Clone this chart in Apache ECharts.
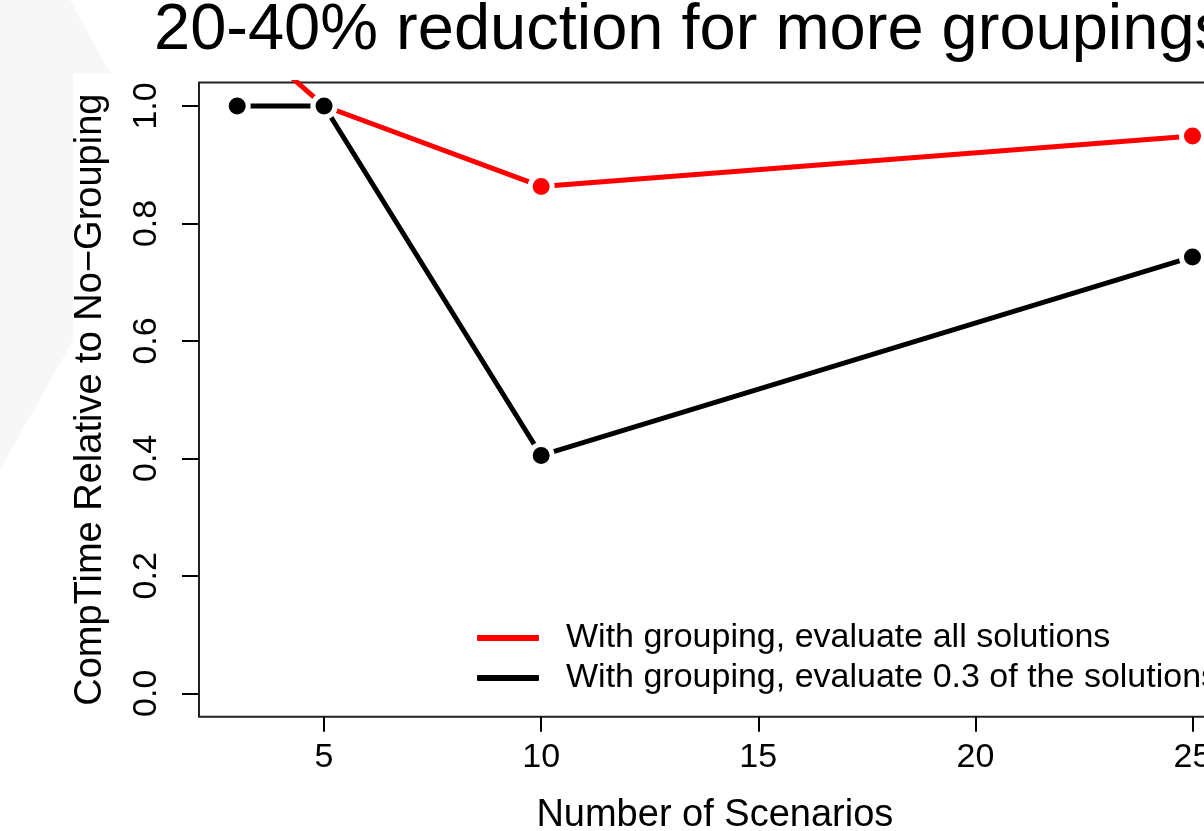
<!DOCTYPE html>
<html>
<head>
<meta charset="utf-8">
<script src="https://cdn.jsdelivr.net/npm/echarts@6/dist/echarts.min.js"></script>
<style>html,body{margin:0;padding:0;background:#fff;}#c{width:1204px;height:831px;}</style>
</head>
<body>
<div id="c"></div>
<script>
const titleText = "20-40% reduction for more groupings";
const xName = "Number of Scenarios";
const yName = "CompTime Relative to No\u2212Grouping";
const seriesNames = ["With grouping, evaluate all solutions", "With grouping, evaluate 0.3 of the solutions"];
const scenarios = [3, 5, 10, 25];
const redValues = [1.13, 1.0, 0.863, 0.949];
const blackValues = [1.0, 1.0, 0.405, 0.743];
const xTicks = [5, 10, 15, 20, 25];
const yTicks = [0, 0.2, 0.4, 0.6, 0.8, 1.0];

const chart = echarts.init(document.getElementById('c'), null, {renderer: 'canvas'});
const FONT = "'Liberation Sans', Arial, sans-serif";
const pair = (vals) => scenarios.map((x, i) => [x, vals[i]]);
const mkSeries = (name, vals, color) => ({
  name: name, type: 'line', data: pair(vals), clip: true,
  symbol: 'circle', symbolSize: 22,
  lineStyle: {color: color, width: 5},
  itemStyle: {color: color, borderColor: '#ffffff', borderWidth: 5},
  emphasis: {disabled: true}, animation: false
});
chart.setOption({
  backgroundColor: '#ffffff',
  animation: false,
  graphic: [
    {type: 'polygon', z: -100, silent: true, shape: {points: [[0,0],[70,0],[166,175],[0,470]]}, style: {fill: '#f7f7f7'}},
    {type: 'rect', z: -99, silent: true, shape: {x: 73, y: 73, width: 1200, height: 800}, style: {fill: '#ffffff'}}
  ],
  title: {text: titleText, left: 149, top: -6, padding: 5, textStyle: {fontFamily: FONT, fontSize: 65, fontWeight: 'normal', color: '#000'}},
  legend: {
    orient: 'vertical', left: 475, top: 618, padding: 0, itemGap: 0, itemWidth: 64, itemHeight: 8, icon: 'roundRect',
    data: seriesNames,
    textStyle: {fontFamily: FONT, fontSize: 34, color: '#000', lineHeight: 40, padding: [0,0,0,21]}
  },
  grid: {left: 199, top: 82.5, right: -26.7, bottom: 114.2, show: true, borderColor: '#222', borderWidth: 2, containLabel: false, outerBoundsMode: 'none'},
  xAxis: {
    type: 'value', min: 2.12, max: 25.88,
    name: xName, nameLocation: 'middle', nameGap: 80,
    nameTextStyle: {fontFamily: FONT, fontSize: 38, color: '#000'},
    axisLine: {show: false, onZero: false},
    axisTick: {show: true, length: 15, inside: false, customValues: xTicks, lineStyle: {color: '#000', width: 2}},
    axisLabel: {customValues: xTicks, margin: 24, fontFamily: FONT, fontSize: 34, color: '#000'},
    splitLine: {show: false}
  },
  yAxis: {
    type: 'value', min: -0.04, max: 1.04,
    name: yName, nameLocation: 'middle', nameGap: 89, nameRotate: 90,
    nameTextStyle: {fontFamily: FONT, fontSize: 38, color: '#000'},
    axisLine: {show: false, onZero: false},
    axisTick: {show: true, length: 17, inside: false, customValues: yTicks, lineStyle: {color: '#000', width: 2}},
    axisLabel: {customValues: yTicks, rotate: 90, margin: 35, fontFamily: FONT, fontSize: 34, color: '#000', formatter: (v) => v.toFixed(1)},
    splitLine: {show: false}
  },
  series: [
    mkSeries(seriesNames[0], redValues, '#ff0000'),
    mkSeries(seriesNames[1], blackValues, '#000000')
  ]
});
</script>
</body>
</html>
